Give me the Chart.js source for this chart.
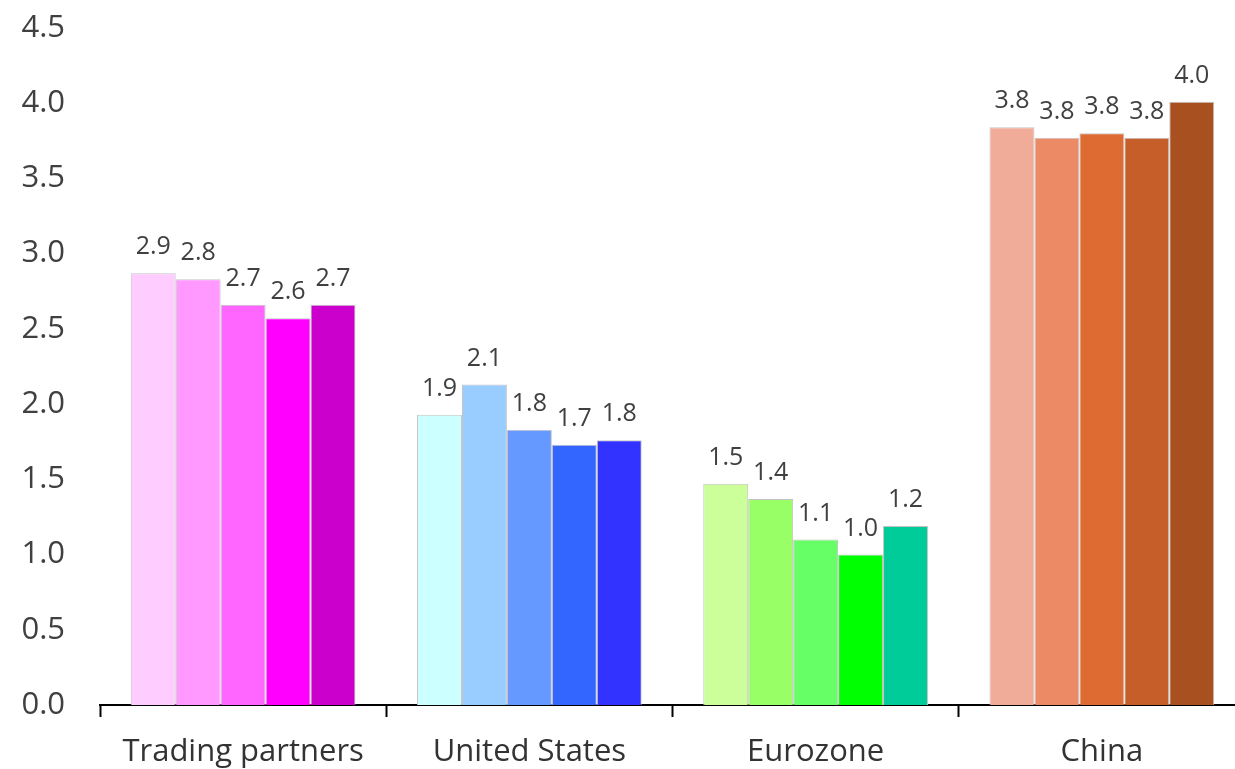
<!DOCTYPE html>
<html>
<head>
<meta charset="utf-8">
<script src="https://cdn.jsdelivr.net/npm/chart.js@4/dist/chart.umd.min.js"></script>
<style>
    html, body { margin: 0; padding: 0; background: #fff; overflow: hidden; }
    #chartContainer { position: relative; width: 1245px; height: 769px; }
</style>
</head>
<body>
<div id="chartContainer"><canvas id="growthChart"></canvas></div>
<script>
// categories along the x axis
const categories = ['Trading partners', 'United States', 'Eurozone', 'China'];

// five bars per category, one array per bar position
const series1 = [2.87, 1.93, 1.47, 3.84];
const series2 = [2.83, 2.13, 1.37, 3.77];
const series3 = [2.66, 1.83, 1.10, 3.80];
const series4 = [2.57, 1.73, 1.00, 3.77];
const series5 = [2.66, 1.76, 1.19, 4.01];

const yTicks = [0, 0.5, 1.0, 1.5, 2.0, 2.5, 3.0, 3.5, 4.0, 4.5];

// colour shades per category (light to dark)
const colors1 = ['#FFCCFF', '#CCFFFF', '#CCFF99', '#F0AC98'];
const colors2 = ['#FF99FF', '#99CCFF', '#99FF66', '#EB8A64'];
const colors3 = ['#FF66FF', '#6699FF', '#66FF66', '#DE6B32'];
const colors4 = ['#FF00FF', '#3366FF', '#00FF00', '#C55E28'];
const colors5 = ['#CC00CC', '#3333FF', '#00CC99', '#A8501F'];

const fontFamily = '"Open Sans", "Noto Sans", sans-serif';

// draws the value above each bar
const barLabels = {
    id: 'barLabels',
    afterDatasetsDraw(chart) {
        const ctx = chart.ctx;
        ctx.save();
        ctx.font = '25px ' + fontFamily;
        ctx.fillStyle = '#404040';
        ctx.textAlign = 'center';
        ctx.textBaseline = 'alphabetic';
        chart.data.datasets.forEach((ds, i) => {
            chart.getDatasetMeta(i).data.forEach((bar, j) => {
                ctx.fillText(ds.data[j].toFixed(1), bar.x, bar.y - 19);
            });
        });
        ctx.restore();
    }
};

function makeDataset(label, values, colors) {
    return {
        label: label,
        data: values,
        backgroundColor: colors,
        borderColor: '#c4c4c4',
        borderWidth: 1,
        barPercentage: 1.0,
        categoryPercentage: 0.785
    };
}

document.addEventListener('DOMContentLoaded', function() {
    const ctx = document.getElementById('growthChart').getContext('2d');
    new Chart(ctx, {
        type: 'bar',
        data: {
            labels: categories,
            datasets: [
                makeDataset('Series 1', series1, colors1),
                makeDataset('Series 2', series2, colors2),
                makeDataset('Series 3', series3, colors3),
                makeDataset('Series 4', series4, colors4),
                makeDataset('Series 5', series5, colors5)
            ]
        },
        options: {
            responsive: true,
            maintainAspectRatio: false,
            animation: false,
            layout: { padding: { top: 28, right: 0, left: 0, bottom: 0 } },
            plugins: {
                legend: { display: false },
                tooltip: { enabled: false }
            },
            scales: {
                y: {
                    min: 0,
                    max: 4.5,
                    afterFit: scale => {
                        scale.width = 100;
                        scale.paddingTop = 0;
                        scale.paddingBottom = 0;
                    },
                    afterBuildTicks: scale => { scale.ticks = yTicks.map(v => ({ value: v })); },
                    grid: { display: false, drawTicks: false },
                    border: { display: false },
                    ticks: {
                        padding: 35,
                        color: '#404040',
                        font: { family: fontFamily, size: 31 },
                        callback: value => value.toFixed(1)
                    }
                },
                x: {
                    afterFit: scale => {
                        scale.height = 64;
                        scale.paddingLeft = 0;
                        scale.paddingRight = 0;
                    },
                    grid: {
                        display: true,
                        offset: true,
                        drawOnChartArea: false,
                        drawTicks: true,
                        tickLength: 12,
                        tickWidth: 2,
                        tickColor: '#000'
                    },
                    border: { display: true, color: '#000', width: 2 },
                    ticks: {
                        padding: 17,
                        color: '#333',
                        maxRotation: 0,
                        font: { family: fontFamily, size: 31 }
                    }
                }
            }
        },
        plugins: [barLabels]
    });
});
</script>
</body>
</html>
